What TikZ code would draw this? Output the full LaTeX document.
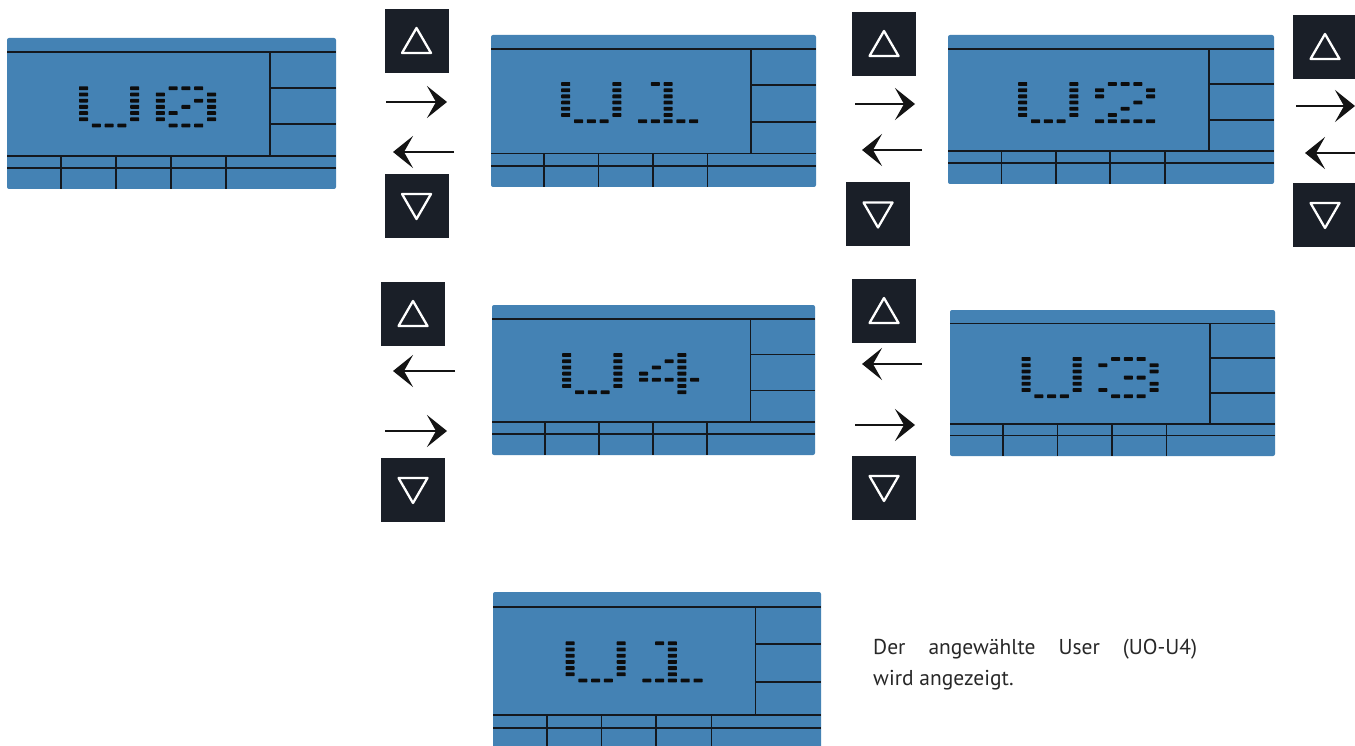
\documentclass[tikz,border=0pt]{standalone}
\usepackage{fontspec}
\setmainfont{PT Sans}
\usetikzlibrary{arrows.meta}
\definecolor{lcdblue}{RGB}{68,130,180}
\definecolor{btndark}{RGB}{26,31,40}
\definecolor{linedark}{RGB}{20,24,30}
\definecolor{txtgray}{RGB}{40,40,40}
\tikzset{
  lcdbox/.style={fill=lcdblue, rounded corners=2pt},
  lcdline/.style={draw=linedark, line width=1.8pt},
  seg/.style={fill=black!95, rounded corners=0.6pt},
  btn/.style={fill=btndark, minimum width=64pt, minimum height=64pt, inner sep=0pt, outer sep=0pt},
  tri/.style={draw=white, line width=2.3pt, line join=round},
  arr/.style={draw=black!92, line width=2.7pt, -{Stealth[length=20pt,width=32pt,inset=9pt]}},
}
\newcommand\lcd[5]{%
  \pgfmathsetmacro\lW{#3-#1}\pgfmathsetmacro\lH{#4-#2}%
  \fill[lcdbox] (#1,#2) rectangle (#3,#4);
  \coordinate (#5) at ({(#1+#3)/2},{(#2+#4)/2});
  \pgfmathsetmacro\yT{#2+0.093*\lH}%
  \pgfmathsetmacro\xD{#1+0.80*\lW}%
  \pgfmathsetmacro\yRa{#2+0.33*\lH}%
  \pgfmathsetmacro\yRb{#2+0.57*\lH}%
  \pgfmathsetmacro\yBa{#2+0.78*\lH}%
  \pgfmathsetmacro\yBb{#2+0.86*\lH}%
  \draw[lcdline] (#1,\yT) -- (#3,\yT);
  \draw[lcdline] (\xD,\yT) -- (\xD,\yBa);
  \draw[lcdline] (\xD,\yRa) -- (#3,\yRa);
  \draw[lcdline] (\xD,\yRb) -- (#3,\yRb);
  \draw[lcdline] (#1,\yBa) -- (#3,\yBa);
  \draw[lcdline] (#1,\yBb) -- (#3,\yBb);
  \foreach \f in {0.164,0.331,0.498,0.666}{\draw[lcdline] ({#1+\f*\lW},\yBa) -- ({#1+\f*\lW},#4);}
}
\newcommand\glyph[3]{\foreach \c/\r in #3 {\fill[seg] ({#1+\c*12.8-4.5},{#2+\r*6.2-1.9}) rectangle ++(9,3.8);}}
\def\LU{0/0,0/1,0/2,0/3,0/4,0/5,4/0,4/1,4/2,4/3,4/4,4/5,1/6,2/6,3/6}
\def\LZero{7/0,8/0,9/0,6/1,6/2,6/3,6/4,6/5,10/1,10/2,10/3,10/4,10/5,7/6,8/6,9/6,9/2,8/3,7/4}
\def\LOne{7/0,8/0,8/1,8/2,8/3,8/4,8/5,6/6,7/6,8/6,9/6,10/6}
\def\LTwo{7/0,8/0,9/0,6/1,6/2,10/1,10/2,9/3,8/4,7/5,6/6,7/6,8/6,9/6,10/6}
\def\LThree{7/0,8/0,9/0,6/1,10/1,10/2,8/3,9/3,10/4,10/5,6/5,7/6,8/6,9/6}
\def\LFour{9/0,9/1,9/2,9/3,9/4,9/5,9/6,8/1,7/2,6/3,6/4,7/4,8/4,10/4}
\newcommand\uptri[1]{\draw[tri] ([shift={(-14.5,12)}]#1.center) -- ([shift={(14.5,12)}]#1.center) -- ([shift={(0,-13)}]#1.center) -- cycle;}
\newcommand\dntri[1]{\draw[tri] ([shift={(-14.5,-12)}]#1.center) -- ([shift={(14.5,-12)}]#1.center) -- ([shift={(0,13)}]#1.center) -- cycle;}
\begin{document}
\begin{tikzpicture}[x=1pt,y=-1pt]
\useasboundingbox (0,0) rectangle (1355,746);
\fill[white] (0,0) rectangle (1355,746);
% displays
\lcd{7}{38}{336}{189}{d0}
\glyph{83.5}{88.3}{\LU}\glyph{83.5}{88.3}{\LZero}
\lcd{491}{35}{816}{187}{d1}
\glyph{565.7}{84}{\LU}\glyph{565.7}{84}{\LOne}
\lcd{948}{35}{1274}{184}{d2}
\glyph{1022.7}{84}{\LU}\glyph{1022.7}{84}{\LTwo}
\lcd{492}{305}{815}{455}{d4}
\glyph{566.7}{355}{\LU}\glyph{566.7}{355}{\LFour}
\lcd{950}{310}{1275}{456}{d3}
\glyph{1026}{359}{\LU}\glyph{1026}{359}{\LThree}
\lcd{493}{592}{821}{750}{d5}
\glyph{570}{643.3}{\LU}\glyph{570}{643.3}{\LOne}
% group 1
\node[btn] (b1u) at (416.5,41) {}; \uptri{b1u}
\node[btn] (b1d) at (416.5,206) {}; \dntri{b1d}
\coordinate (a1s) at (386,102); \coordinate (a1e) at (447,102);
\draw[arr] (a1s) -- (a1e);
\coordinate (a2s) at (454,152); \coordinate (a2e) at (393,152);
\draw[arr] (a2s) -- (a2e);
% group 2
\node[btn] (b2u) at (884,44) {}; \uptri{b2u}
\node[btn] (b2d) at (878,214.5) {}; \dntri{b2d}
\coordinate (a3s) at (855,104) ; \coordinate (a3e) at (915,104);
\draw[arr] (a3s) -- (a3e);
\coordinate (a4s) at (922,150); \coordinate (a4e) at (862,150);
\draw[arr] (a4s) -- (a4e);
% group 3
\node[btn] (b3u) at (1325,47) {}; \uptri{b3u}
\node[btn] (b3d) at (1325,215) {}; \dntri{b3d}
\coordinate (a5s) at (1296,106); \coordinate (a5e) at (1355,106);
\draw[arr] (a5s) -- (a5e);
\coordinate (a6s) at (1360,153); \coordinate (a6e) at (1305,153);
\draw[arr] (a6s) -- (a6e);
% group 4
\node[btn] (b4u) at (413,314) {}; \uptri{b4u}
\node[btn] (b4d) at (413,490) {}; \dntri{b4d}
\coordinate (a7s) at (455,371); \coordinate (a7e) at (393,371);
\draw[arr] (a7s) -- (a7e);
\coordinate (a8s) at (385,431); \coordinate (a8e) at (447,431);
\draw[arr] (a8s) -- (a8e);
% group 5
\node[btn] (b5u) at (884,311) {}; \uptri{b5u}
\node[btn] (b5d) at (884,488) {}; \dntri{b5d}
\coordinate (a9s) at (922,364); \coordinate (a9e) at (862,364);
\draw[arr] (a9s) -- (a9e);
\coordinate (a10s) at (855,425); \coordinate (a10e) at (915,425);
\draw[arr] (a10s) -- (a10e);
% text
\node[anchor=north west, inner sep=0pt, align=left, text=txtgray,
      font=\fontsize{21.5}{31}\selectfont] (txt) at (873,639)
  {\makebox[324pt][s]{Der angewählte User (UO-U4)}\\wird angezeigt.};
\end{tikzpicture}
\end{document}
